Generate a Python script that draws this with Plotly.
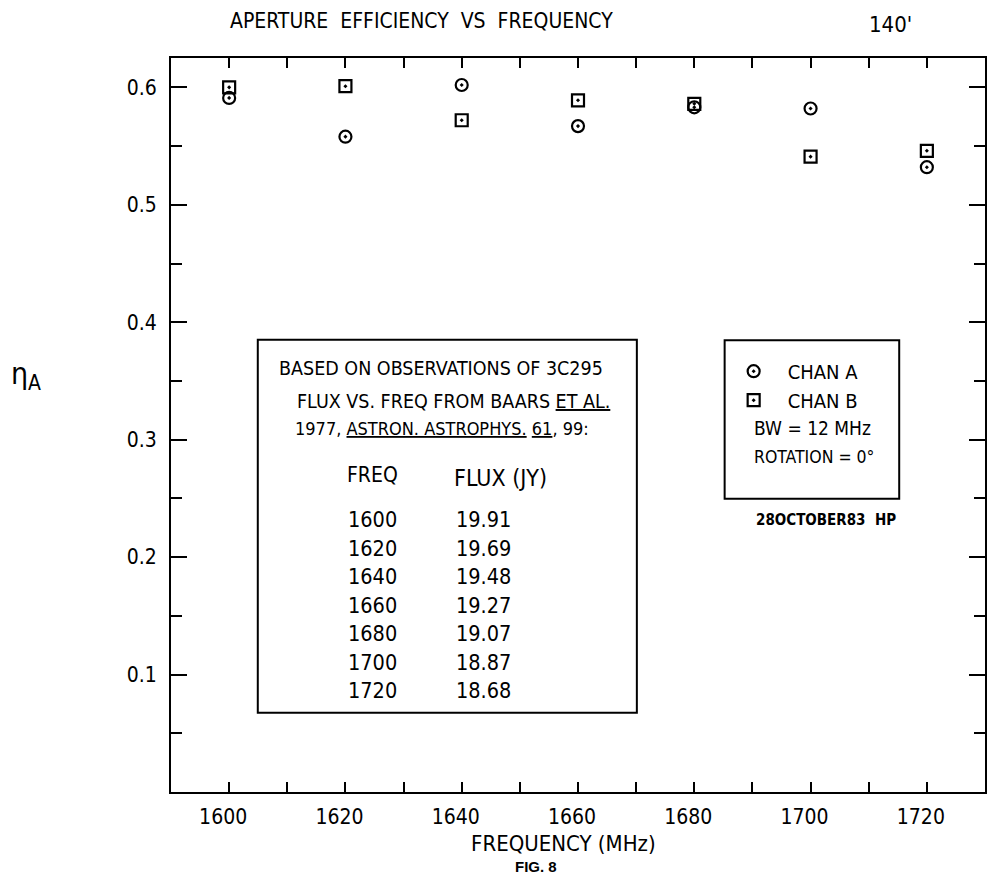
import plotly.graph_objects as go

# ---------------- data ----------------
freq_mhz = [1600, 1620, 1640, 1660, 1680, 1700, 1720]
eff_chan_a = [0.591, 0.558, 0.602, 0.567, 0.583, 0.582, 0.532]
eff_chan_b = [0.600, 0.601, 0.572, 0.589, 0.586, 0.541, 0.546]

x_tick_vals = [1600, 1620, 1640, 1660, 1680, 1700, 1720]
x_tick_text = ["1600", "1620", "1640", "1660", "1680", "1700", "1720"]
x_minor_vals = [1610, 1630, 1650, 1670, 1690, 1710]
y_tick_vals = [0.1, 0.2, 0.3, 0.4, 0.5, 0.6]
y_tick_text = ["0.1", "0.2", "0.3", "0.4", "0.5", "0.6"]

table_freq = ["1600", "1620", "1640", "1660", "1680", "1700", "1720"]
table_flux = ["19.91", "19.69", "19.48", "19.27", "19.07", "18.87", "18.68"]

# ---------------- layout helpers (pixel -> paper) ----------------
W, H = 989, 875
L, R, T, B = 171, 987, 58.3, 792.3


def X(px):
    return (px - L) / (R - L)


def Y(py):
    return (B - py) / (B - T)


FONT = "Liberation Sans Narrow, DejaVu Sans Condensed, Liberation Sans, Arial, sans-serif"
INK = "black"

fig = go.Figure()
fig.add_trace(go.Scatter(
    x=freq_mhz, y=eff_chan_a, mode="markers", name="CHAN A",
    marker=dict(symbol="circle-open-dot", size=12, color=INK, line=dict(width=2.2, color=INK)),
))
fig.add_trace(go.Scatter(
    x=freq_mhz, y=eff_chan_b, mode="markers", name="CHAN B",
    marker=dict(symbol="square-open-dot", size=12, color=INK, line=dict(width=2.2, color=INK)),
))

ann = []


def add_text(text, px, py, size, xanchor="center", yanchor="middle", bold=False, family=FONT):
    ann.append(dict(
        text=f"<b>{text}</b>" if bold else text,
        x=X(px), y=Y(py), xref="paper", yref="paper",
        xanchor=xanchor, yanchor=yanchor, showarrow=False,
        font=dict(family=family, size=size, color=INK),
    ))


# title & corner note
add_text("APERTURE  EFFICIENCY  VS  FREQUENCY", 228, 21, 21, xanchor="left")
add_text("140'", 892, 25, 22)
# axis titles
add_text("FREQUENCY (MHz)", 564, 844, 22)
add_text("η<sub>A</sub>", 26, 376, 30)
add_text("FIG. 8", 537, 867, 15, bold=True, family="Liberation Sans, Arial, sans-serif")

# text box with observation notes
add_text("BASED ON OBSERVATIONS OF 3C295", 442, 369, 19.5)
add_text("FLUX VS. FREQ FROM BAARS <u>ET AL.</u>", 454, 402, 19.5)
add_text("1977, <u>ASTRON. ASTROPHYS.</u> <u>61</u>, 99:", 443, 429, 18)
add_text("FREQ", 373, 475, 21)
add_text("FLUX (JY)", 501, 478, 23)
for i, (fq, fl) in enumerate(zip(table_freq, table_flux)):
    yy = 520 + i * 28.5
    add_text(fq, 373, yy, 21.5)
    add_text(fl, 455, yy, 21.5, xanchor="left")

# legend box extras
add_text("BW = 12 MHz", 753, 428, 19, xanchor="left")
add_text("ROTATION = 0°", 753, 457, 17.5, xanchor="left")
add_text("28OCTOBER83  HP", 755, 520, 15, xanchor="left", bold=True)

shapes = [
    dict(type="rect", xref="paper", yref="paper", x0=X(258), x1=X(638), y0=Y(713), y1=Y(340),
         line=dict(color=INK, width=2)),
    dict(type="rect", xref="paper", yref="paper", x0=X(726), x1=X(901), y0=Y(499), y1=Y(340.5),
         line=dict(color=INK, width=2)),
]

fig.update_layout(
    width=W, height=H,
    margin=dict(l=L, r=W - R, t=T, b=H - B),
    paper_bgcolor="white", plot_bgcolor="white",
    font=dict(family=FONT, color=INK),
    annotations=ann, shapes=shapes,
    showlegend=True,
    legend=dict(x=X(721), y=Y(352), xanchor="left", yanchor="top",
                bgcolor="rgba(0,0,0,0)", borderwidth=0, itemwidth=58,
                font=dict(family=FONT, size=20, color=INK), tracegroupgap=0),
)
fig.update_xaxes(
    range=[1590, 1730], showline=True, linewidth=2, linecolor=INK, mirror="ticks",
    ticks="inside", ticklen=10, tickwidth=2, tickcolor=INK,
    tickmode="array", tickvals=x_tick_vals, ticktext=x_tick_text,
    minor=dict(ticks="inside", ticklen=10, tickwidth=2, tickcolor=INK, tickvals=x_minor_vals),
    tickfont=dict(family=FONT, size=21, color=INK), ticklabelstandoff=5, ticklabelshift=-6,
    showgrid=False, zeroline=False,
)
fig.update_yaxes(
    range=[0, 0.625], showline=True, linewidth=2, linecolor=INK, mirror="ticks",
    ticks="inside", ticklen=16, tickwidth=2, tickcolor=INK,
    tickmode="array", tickvals=y_tick_vals, ticktext=y_tick_text,
    minor=dict(ticks="inside", ticklen=11, tickwidth=2, tickcolor=INK, tick0=0, dtick=0.05),
    tickfont=dict(family=FONT, size=21, color=INK), ticklabelstandoff=8,
    showgrid=False, zeroline=False,
)

fig.write_html("out.html", config={"displayModeBar": False},
               post_script="document.body.style.margin='0';")
